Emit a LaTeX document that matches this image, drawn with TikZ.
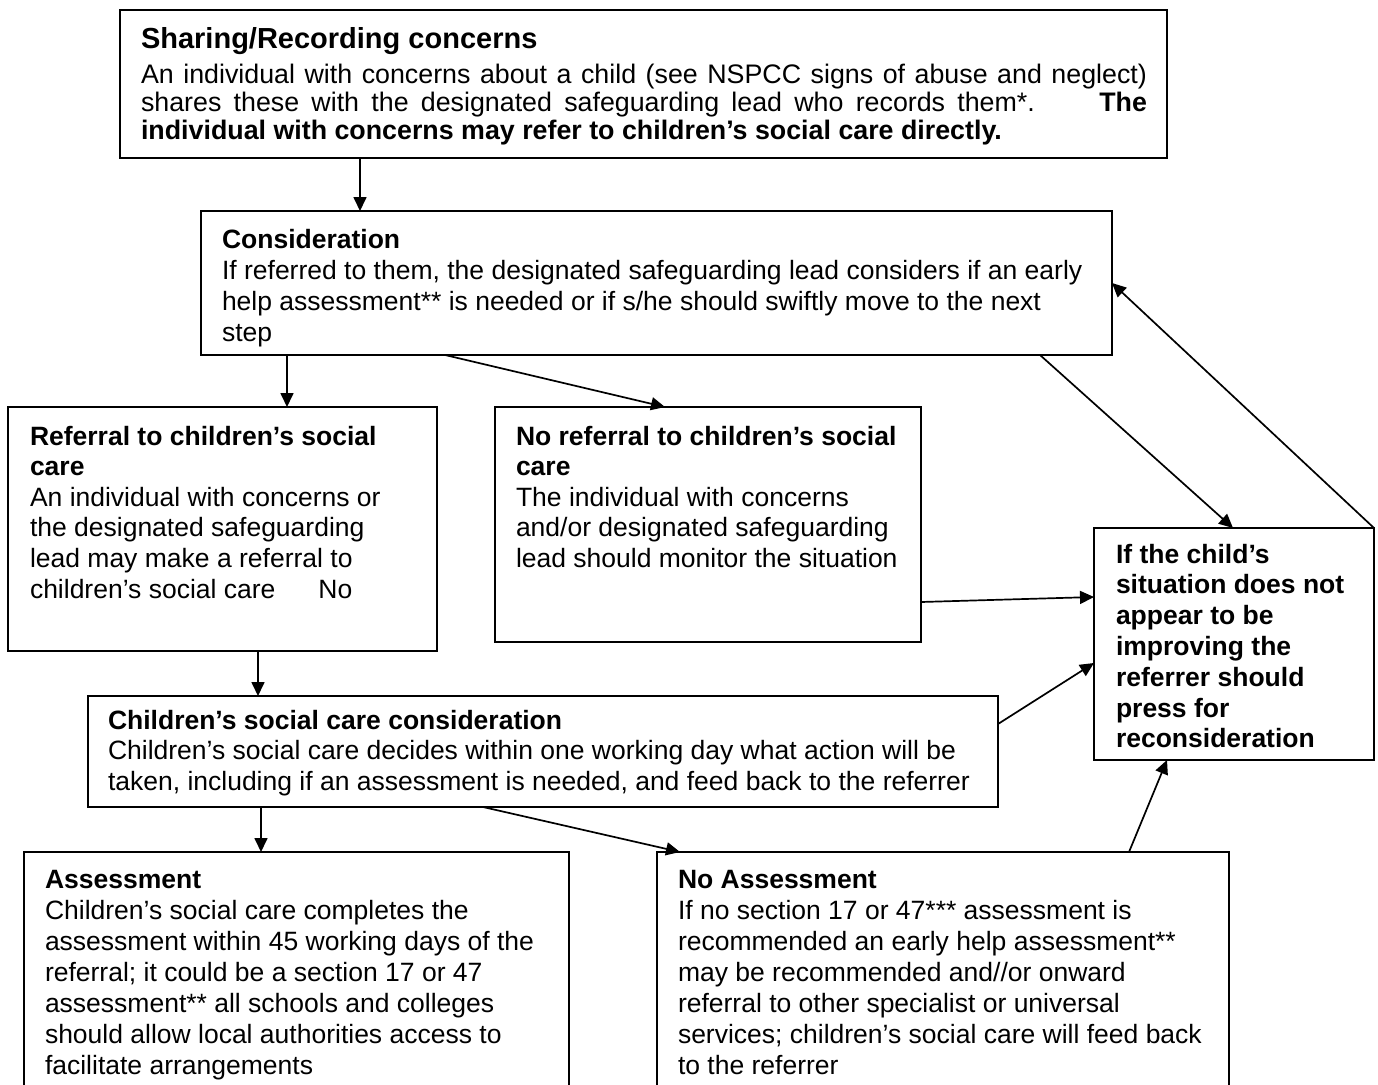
\documentclass[tikz,border=0pt]{standalone}
\usepackage{fontspec}
\setmainfont{Liberation Sans}
\usetikzlibrary{arrows.meta}
\newcommand\bxt[3]{\parbox[t]{#1}{\fontsize{26.5pt}{#2}\selectfont\raggedright #3}}
\begin{document}
\begin{tikzpicture}[x=1pt,y=-1pt,
  box/.style={draw=black, line width=2pt, anchor=north west, inner sep=0pt, outer sep=0pt},
  txt/.style={anchor=base west, inner sep=0pt, outer sep=0pt},
  arr/.style={line width=1.7pt, -{Triangle[length=14pt,width=13pt]}}]
\useasboundingbox (0,0) rectangle (1378,1084);
\clip (0,0) rectangle (1378,1084);
\fill[white] (0,0) rectangle (1378,1084);

% boxes
\node[box, minimum width=1047pt, minimum height=148pt] (A) at (120,10) {};
\node[box, minimum width=911pt, minimum height=144pt] (B) at (201,211) {};
\node[box, minimum width=429pt, minimum height=244pt] (C) at (8,407) {};
\node[box, minimum width=426pt, minimum height=235pt] (D) at (495,407) {};
\node[box, minimum width=280pt, minimum height=232pt] (E) at (1094,528) {};
\node[box, minimum width=910pt, minimum height=111pt] (F) at (88,696) {};
\node[box, minimum width=545pt, minimum height=260pt] (H) at (24,852) {};
\node[box, minimum width=572pt, minimum height=260pt] (G) at (657,852) {};

% texts
\node[txt] (tA1) at (141,48) {\fontsize{29pt}{32pt}\selectfont\bfseries Sharing/Recording concerns};
\node[txt] (tA2) at (141,83) {\parbox[t]{1006pt}{\fontsize{26.8pt}{28pt}\selectfont
\makebox[1006pt][s]{An individual with concerns about a child (see NSPCC signs of abuse and neglect)}\\
\makebox[1006pt][s]{shares these with the designated safeguarding lead who records them*.\hspace{40pt} \textbf{The}}\\
\textbf{individual with concerns may refer to children’s social care directly.}}};

\node[txt] (tB) at (222,248) {\bxt{900pt}{31pt}{\textbf{Consideration}\\
If referred to them, the designated safeguarding lead considers if an early\\
help assessment** is needed or if s/he should swiftly move to the next\\
step}};

\node[txt] (tC) at (30,445) {\bxt{420pt}{30.6pt}{\textbf{Referral to children’s social}\\
\textbf{care}\\
An individual with concerns or\\
the designated safeguarding\\
lead may make a referral to\\
children’s social care\hspace{43pt}No}};

\node[txt] (tD) at (516,445) {\bxt{420pt}{30.6pt}{\textbf{No referral to children’s social}\\
\textbf{care}\\
The individual with concerns\\
and/or designated safeguarding\\
lead should monitor the situation}};

\node[txt] (tE) at (1116,563) {\bxt{260pt}{30.8pt}{\bfseries If the child’s\\
situation does not\\
appear to be\\
improving the\\
referrer should\\
press for\\
reconsideration}};

\node[txt] (tF) at (108,729) {\bxt{900pt}{30.5pt}{\textbf{Children’s social care consideration}\\
Children’s social care decides within one working day what action will be\\
taken, including if an assessment is needed, and feed back to the referrer}};

\node[txt] (tH) at (45,888) {\bxt{530pt}{31pt}{\textbf{Assessment}\\
Children’s social care completes the\\
assessment within 45 working days of the\\
referral; it could be a section 17 or 47\\
assessment** all schools and colleges\\
should allow local authorities access to\\
facilitate arrangements}};

\node[txt] (tG) at (678,888) {\bxt{560pt}{31pt}{\textbf{No Assessment}\\
If no section 17 or 47*** assessment is\\
recommended an early help assessment**\\
may be recommended and//or onward\\
referral to other specialist or universal\\
services; children’s social care will feed back\\
to the referrer}};

% connectors
\draw[arr] ([xshift=240pt]A.south west) -- ([xshift=159pt]B.north west);
\draw[arr] ([xshift=86pt]B.south west) -- ([xshift=279pt]C.north west);
\draw[arr] ([xshift=244pt]B.south west) -- ([xshift=170pt]D.north west);
\draw[arr] ([xshift=839pt]B.south west) -- ([xshift=139pt]E.north west);
\draw[arr] (E.north east) -- ([yshift=-72pt]B.north east);
\draw[arr] ([yshift=-195pt]D.north east) -- ([yshift=-69pt]E.north west);
\draw[arr] ([xshift=250pt]C.south west) -- ([xshift=170pt]F.north west);
\draw[arr] ([yshift=-28pt]F.north east) -- ([yshift=-135pt]E.north west);
\draw[arr] ([xshift=173pt]F.south west) -- ([xshift=237pt]H.north west);
\draw[arr] ([xshift=395pt]F.south west) -- ([xshift=23pt]G.north west);
\draw[arr] ([xshift=472pt]G.north west) -- ([xshift=73pt]E.south west);
\end{tikzpicture}
\end{document}
